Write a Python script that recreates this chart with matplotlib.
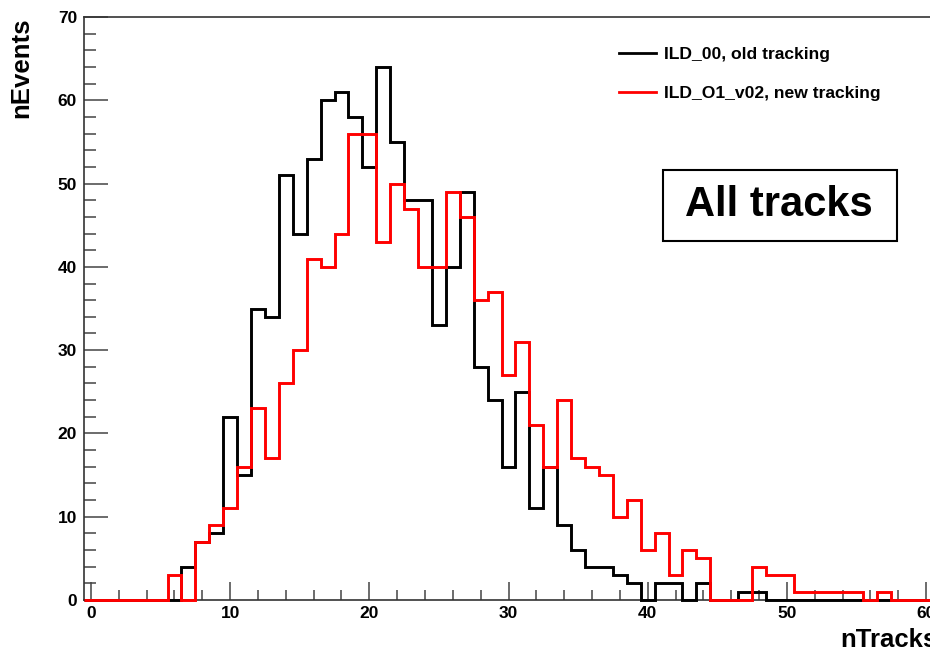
import numpy as np
import matplotlib
matplotlib.use("Agg")
import matplotlib.pyplot as plt
from matplotlib.patches import Rectangle

plt.rcParams['font.family'] = ['Liberation Sans', 'DejaVu Sans']
plt.rcParams['font.weight'] = 'bold'

# bin centres 0..60, width 1
bin_edges = np.arange(-0.5, 61.5, 1.0)

old_counts = [0, 0, 0, 0, 0, 0, 0, 4, 7, 8,
              22, 15, 35, 34, 51, 44, 53, 60, 61, 58,
              52, 64, 55, 48, 48, 33, 40, 49, 28, 24,
              16, 25, 11, 16, 9, 6, 4, 4, 3, 2,
              0, 2, 2, 0, 2, 0, 0, 1, 1, 0,
              0, 0, 0, 0, 0, 0, 0, 0, 0, 0, 0]
new_counts = [0, 0, 0, 0, 0, 0, 3, 0, 7, 9,
              11, 16, 23, 17, 26, 30, 41, 40, 44, 56,
              56, 43, 50, 47, 40, 40, 49, 46, 36, 37,
              27, 31, 21, 16, 24, 17, 16, 15, 10, 12,
              6, 8, 3, 6, 5, 0, 0, 0, 4, 3,
              3, 1, 1, 1, 1, 1, 0, 1, 0, 0, 0]
labels = ["ILD_00, old tracking", "ILD_O1_v02, new tracking"]

W, H = 930, 653
fig = plt.figure(figsize=(W / 100, H / 100), dpi=100)
# axes run a bit past the right edge, like the cropped original
ax = fig.add_axes([84 / W, 53 / H, (933 - 84) / W, (600 - 17) / H])

ax.stairs(old_counts, bin_edges, color="black", linewidth=2.1,
          label=labels[0], zorder=3, clip_on=False)
ax.stairs(new_counts, bin_edges, color="#ff0000", linewidth=2.1,
          label=labels[1], zorder=4, clip_on=False)

ax.set_xlim(-0.5, 60.5)
ax.set_ylim(0, 70)
ax.set_xticks(np.arange(0, 61, 10))
ax.set_xticks(np.arange(0, 61, 2), minor=True)
ax.set_yticks(np.arange(0, 71, 10))
ax.set_yticks(np.arange(0, 71, 2), minor=True)

for s in ax.spines.values():
    s.set_color("#333333")
    s.set_linewidth(1.2)

ax.tick_params(axis="x", which="major", direction="in", length=13, width=1.1,
               color="#444444", labelsize=12.5, pad=4)
ax.tick_params(axis="x", which="minor", direction="in", length=7, width=1.1,
               color="#444444")
ax.tick_params(axis="y", which="major", direction="in", length=17, width=1.1,
               color="#444444", labelsize=12.5, pad=5)
ax.tick_params(axis="y", which="minor", direction="in", length=8.5, width=1.1,
               color="#444444")
for lab in ax.get_xticklabels() + ax.get_yticklabels():
    lab.set_fontweight("bold")

fig.text(21 / W, 1 - 17 / H, "nEvents", rotation=90, ha="center", va="top",
         fontsize=18.5, fontweight="bold")
fig.text(937 / W, 1 - 647 / H, "nTracks", ha="right", va="baseline",
         fontsize=18.5, fontweight="bold")

leg = ax.legend(loc="upper left", bbox_to_anchor=(619 / W, 1 - 47 / H),
                bbox_transform=fig.transFigure, frameon=False, fontsize=12.6,
                handlelength=2.1, handletextpad=0.45, labelspacing=1.36,
                borderpad=0, borderaxespad=0)
for line in leg.get_lines():
    line.set_linewidth(2.0)

fig.add_artist(Rectangle((663 / W, 1 - 241 / H), (897 - 663) / W, (241 - 170) / H,
                         transform=fig.transFigure, facecolor="white",
                         edgecolor="black", linewidth=1.5))
fig.text(779 / W, 1 - 205 / H, "All tracks", ha="center", va="center",
         fontsize=30, fontweight="bold")

fig.savefig("out.png", dpi=100)
